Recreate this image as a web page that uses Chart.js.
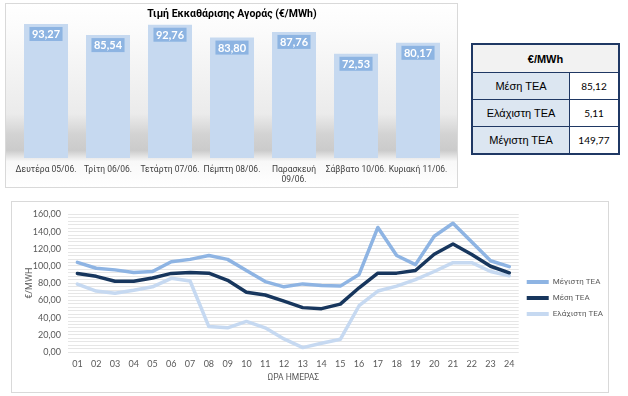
<!DOCTYPE html>
<html lang="el">
<head>
    <meta charset="UTF-8">
    <title>Τιμή Εκκαθάρισης Αγοράς</title>
    <script src="https://cdn.jsdelivr.net/npm/chart.js"></script>
    <style>
        body {
            margin: 0;
            width: 628px;
            height: 396px;
            background: #fff;
            position: relative;
            overflow: hidden;
            font-family: Roboto, Arial, sans-serif;
        }
        #barPanel {
            position: absolute;
            left: 5px;
            top: 3px;
            width: 453px;
            height: 185px;
            box-sizing: border-box;
            border: 1px solid #d9d9d9;
            background: linear-gradient(to bottom, #ffffff 0%, #fbfbfb 15%, #ebebeb 60%, #d3d3d3 71%, #cbcbcb 80%, #f8f8f8 86%, #ffffff 100%);
        }
        #linePanel {
            position: absolute;
            left: 11px;
            top: 201px;
            width: 598px;
            height: 192px;
            box-sizing: border-box;
            border: 1px solid #d9d9d9;
            background: #fff;
        }
        .wrap {
            position: absolute;
            left: 0;
            top: 0;
            right: 0;
            bottom: 0;
        }
        #summary {
            position: absolute;
            left: 471px;
            top: 43px;
            width: 149px;
            height: 110px;
            border-collapse: collapse;
            border: 2px solid #1f3864;
        }
        #summary th {
            background: #f2f2f2;
            font: bold 11px "Liberation Sans", Arial, sans-serif;
            height: 27px;
            border: 1px solid #1f3864;
            padding: 0;
        }
        #summary td {
            border: 1px solid #1f3864;
            text-align: center;
            padding: 0;
            height: 26px;
        }
        #summary td.lab {
            background: #dce6f1;
            font: 11px "Liberation Sans", Arial, sans-serif;
            width: 96px;
        }
        #summary td.val {
            background: #fff;
            font: 10px Lato, sans-serif;
        }
    </style>
</head>
<body>

<div id="barPanel"><div class="wrap"><canvas id="dailyChart"></canvas></div></div>

<table id="summary">
    <thead><tr><th colspan="2">€/MWh</th></tr></thead>
    <tbody></tbody>
</table>

<div id="linePanel"><div class="wrap"><canvas id="hourlyChart"></canvas></div></div>

<script>
    // daily clearing price
    const days = ['Δευτέρα 05/06.', 'Τρίτη 06/06.', 'Τετάρτη 07/06.', 'Πέμπτη 08/06.',
        ['Παρασκευή', '09/06.'], 'Σάββατο 10/06.', 'Κυριακή 11/06.'];
    const dailyPrice = [93.27, 85.54, 92.76, 83.80, 87.76, 72.53, 80.17];

    // summary table
    const summaryLabels = ['Μέση ΤΕΑ', 'Ελάχιστη ΤΕΑ', 'Μέγιστη ΤΕΑ'];
    const summaryValues = ['85,12', '5,11', '149,77'];

    // hourly prices
    const hours = ['01', '02', '03', '04', '05', '06', '07', '08', '09', '10', '11', '12',
        '13', '14', '15', '16', '17', '18', '19', '20', '21', '22', '23', '24'];
    const maxTEA = [104.3, 97.4, 95.5, 92.5, 93.6, 105.0, 107.7, 112.2, 107.7, 94.8, 81.9, 75.8,
        79.2, 77.3, 76.6, 90.2, 144.8, 112.2, 101.6, 134.6, 149.77, 127.8, 106.1, 99.3];
    const meanTEA = [91.4, 88.0, 82.3, 82.3, 86.0, 91.4, 92.5, 91.7, 83.4, 69.4, 66.3, 59.1,
        51.6, 50.4, 55.7, 74.7, 91.7, 91.7, 94.8, 113.7, 125.5, 113.4, 99.7, 92.1];
    const minTEA = [78.9, 70.9, 68.2, 71.7, 75.8, 85.7, 82.6, 29.6, 28.1, 35.6, 28.1, 15.2,
        5.11, 10.2, 14.8, 53.8, 70.9, 76.6, 84.2, 93.6, 103.9, 103.9, 93.6, 88.7];

    const fmt = v => v.toFixed(2).replace('.', ',');

    // table rows
    const tbody = document.querySelector('#summary tbody');
    summaryLabels.forEach((lab, i) => {
        const tr = document.createElement('tr');
        tr.innerHTML = '<td class="lab">' + lab + '</td><td class="val">' + summaryValues[i] + '</td>';
        tbody.appendChild(tr);
    });

    // value boxes on top of the bars
    const barLabels = {
        id: 'barLabels',
        afterDatasetsDraw(chart) {
            const ctx = chart.ctx;
            const meta = chart.getDatasetMeta(0);
            ctx.save();
            ctx.font = 'bold 11px Lato';
            ctx.textAlign = 'center';
            ctx.textBaseline = 'middle';
            meta.data.forEach((bar, i) => {
                const text = fmt(dailyPrice[i]);
                const w = ctx.measureText(text).width + 5;
                const h = 14;
                const y = bar.y + 3;
                ctx.fillStyle = '#8db4e2';
                ctx.fillRect(bar.x - w / 2, y, w, h);
                ctx.fillStyle = '#ffffff';
                ctx.fillText(text, bar.x, y + h / 2 + 0.5);
            });
            ctx.restore();
        }
    };

    new Chart(document.getElementById('dailyChart'), {
        type: 'bar',
        data: {
            labels: days,
            datasets: [{
                data: dailyPrice,
                backgroundColor: '#c6d9f0',
                barPercentage: 0.71,
                categoryPercentage: 1
            }]
        },
        options: {
            responsive: true,
            maintainAspectRatio: false,
            animation: false,
            layout: { padding: { left: 9, right: 8, top: 0, bottom: 0 } },
            plugins: {
                legend: { display: false },
                tooltip: { enabled: false },
                title: {
                    display: true,
                    text: 'Τιμή Εκκαθάρισης Αγοράς (€/MWh)',
                    color: '#000',
                    font: { family: 'Roboto', size: 10.5, weight: 'bold' },
                    padding: { top: 4.5, bottom: 0.4 }
                }
            },
            scales: {
                x: {
                    grid: { display: false, drawTicks: false },
                    border: { display: false },
                    ticks: {
                        color: '#404040',
                        padding: 7,
                        maxRotation: 0,
                        autoSkip: false,
                        font: { family: 'Roboto', size: 8.5 }
                    },
                    afterFit: s => { s.height = 29; }
                },
                y: {
                    display: false,
                    min: 0,
                    max: 95
                }
            }
        },
        plugins: [barLabels]
    });

    new Chart(document.getElementById('hourlyChart'), {
        type: 'line',
        data: {
            labels: hours,
            datasets: [
                { label: 'Μέγιστη ΤΕΑ', data: maxTEA, borderColor: '#8eb4e3', backgroundColor: '#8eb4e3' },
                { label: 'Μέση ΤΕΑ', data: meanTEA, borderColor: '#17365d', backgroundColor: '#17365d' },
                { label: 'Ελάχιστη ΤΕΑ', data: minTEA, borderColor: '#c6d9f1', backgroundColor: '#c6d9f1' }
            ]
        },
        options: {
            responsive: true,
            maintainAspectRatio: false,
            animation: false,
            layout: { padding: { left: 0, right: -5, top: 10, bottom: 8 } },
            elements: {
                line: { borderWidth: 3.5, tension: 0, borderCapStyle: 'round', borderJoinStyle: 'round' },
                point: { radius: 0 }
            },
            plugins: {
                tooltip: { enabled: false },
                legend: {
                    position: 'right',
                    labels: {
                        boxWidth: 22,
                        boxHeight: 4,
                        padding: 8,
                        color: '#595959',
                        font: { family: 'Roboto', size: 8 },
                        generateLabels: chart => Chart.defaults.plugins.legend.labels.generateLabels(chart)
                            .map(l => Object.assign(l, { lineWidth: 0 }))
                    }
                }
            },
            scales: {
                x: {
                    offset: true,
                    grid: { display: false, drawTicks: false },
                    border: { display: false },
                    ticks: {
                        color: '#595959',
                        padding: 7,
                        maxRotation: 0,
                        autoSkip: false,
                        font: { family: 'Lato', size: 9 }
                    },
                    title: {
                        display: true,
                        text: 'ΩΡΑ ΗΜΕΡΑΣ',
                        color: '#595959',
                        font: { family: 'Roboto', size: 8.5 },
                        padding: { top: 0, bottom: 1.5 }
                    },
                    afterFit: s => { s.height = 32; }
                },
                y: {
                    min: 0,
                    max: 160,
                    grid: { color: '#e6e6e6', drawTicks: false },
                    border: { display: false },
                    ticks: {
                        stepSize: 4,
                        autoSkip: false,
                        padding: 7,
                        color: '#595959',
                        font: { family: 'Lato', size: 9 },
                        callback: v => (v % 20 === 0 ? fmt(v) : '')
                    },
                    title: {
                        display: true,
                        text: '€/MWH',
                        color: '#595959',
                        font: { family: 'Roboto', size: 9 },
                        padding: { top: 12.6, bottom: 0 }
                    },
                    afterFit: s => { s.width = 56; }
                }
            }
        }
    });
</script>

</body>
</html>
